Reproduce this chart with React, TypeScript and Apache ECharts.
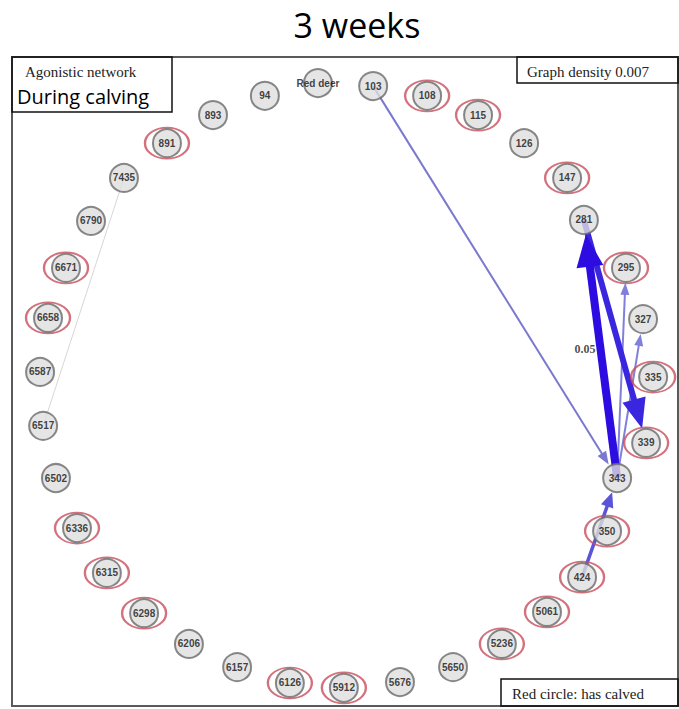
import React, { useEffect, useRef } from 'react';
import * as echarts from 'echarts';

// ---- data ----
const titleText = '3 weeks';
const networkName = 'Agonistic network';
const periodName = 'During calving';
const densityText = 'Graph density 0.007';
const legendText = 'Red circle: has calved';

const nodeNames = ['Red deer', '103', '108', '115', '126', '147', '281', '295', '327', '335', '339', '343', '350', '424', '5061', '5236', '5650', '5676', '5912', '6126', '6157', '6206', '6298', '6315', '6336', '6502', '6517', '6587', '6658', '6671', '6790', '7435', '891', '893', '94'];
// layout coordinates (circle layout, roughly -1..1)
const layoutX = [-0.092, 0.089, 0.266, 0.433, 0.584, 0.725, 0.780, 0.918, 0.974, 1.007, 0.984, 0.889, 0.856, 0.774, 0.659, 0.511, 0.351, 0.177, -0.007, -0.184, -0.357, -0.515, -0.662, -0.784, -0.882, -0.951, -0.993, -1.003, -0.977, -0.918, -0.836, -0.728, -0.587, -0.436, -0.266];
const layoutY = [0.990, 0.980, 0.948, 0.885, 0.793, 0.679, 0.541, 0.384, 0.216, 0.026, -0.190, -0.305, -0.479, -0.630, -0.744, -0.849, -0.925, -0.974, -0.993, -0.977, -0.925, -0.849, -0.748, -0.616, -0.469, -0.305, -0.134, 0.043, 0.220, 0.384, 0.538, 0.679, 0.793, 0.885, 0.948];
const calvedNodes = ['108', '115', '147', '295', '335', '339', '350', '424', '5061', '5236', '5912', '6126', '6298', '6315', '6336', '6658', '6671', '891'];

const edgeSource = ['7435', '103', '343', '343', '424', '281', '343'];
const edgeTarget = ['6517', '343', '295', '327', '343', '339', '281'];
const edgeLabel = ['', '', '', '', '', '', '0.05'];

// ---- styles ----
const edgeColors = ['#d9d5d7', '#7a78cf', '#8080dc', '#8080dc', '#5a55d8', '#3a26de', '#2c0ce0'];
const edgeWidths = [1, 2, 2, 2, 3.5, 6, 8];
const edgeArrows: (number[] | null)[] = [null, [10, 13], [9, 12], [9, 12], [13, 15], [24, 30], [27, 32]];

const W = 679;
const H = 709;
const CX = 346;
const CY = 385;
const R = 305;
const NODE_D = 28;

export default function App() {
  const ref = useRef<HTMLDivElement>(null);
  useEffect(() => {
    document.body.style.margin = '0';
    if (!ref.current) return;
    const chart = echarts.init(ref.current, null, { renderer: 'svg' });

    // effective node sizes for edge trimming (so arrow tips touch node border)
    const effSize = nodeNames.map((n) => {
      let extra = 0;
      edgeTarget.forEach((t, i) => {
        const a = edgeArrows[i];
        if (t === n && a) extra = Math.max(extra, a[1]);
      });
      return NODE_D + 2 + extra;
    });

    const graphNodes = nodeNames.map((n, i) => ({
      name: n,
      value: [layoutX[i], layoutY[i]],
      symbolSize: effSize[i],
    }));
    const links = edgeSource.map((s, i) => {
      const a = edgeArrows[i];
      return {
        source: s,
        target: edgeTarget[i],
        symbol: a ? ['none', 'triangle'] : ['none', 'none'],
        symbolSize: a ? [0, a] : [0, 0],
        lineStyle: { color: edgeColors[i], width: edgeWidths[i], opacity: 1, curveness: 0 },
      };
    });

    const idx = (n: string) => nodeNames.indexOf(n);
    const labelPoints = edgeLabel
      .map((l, i) => {
        if (!l) return null;
        const a = idx(edgeSource[i]);
        const b = idx(edgeTarget[i]);
        return [(layoutX[a] + layoutX[b]) / 2, (layoutY[a] + layoutY[b]) / 2, l];
      })
      .filter((d) => d);

    const option: any = {
      animation: false,
      backgroundColor: '#ffffff',
      grid: { left: 0, right: 0, top: 0, bottom: 0 },
      xAxis: { type: 'value', min: -CX / R, max: (W - CX) / R, show: false },
      yAxis: { type: 'value', min: -(H - CY) / R, max: CY / R, show: false },
      graphic: [
        { type: 'rect', z: 100, shape: { x: 12, y: 57, width: 666, height: 649 }, style: { fill: 'none', stroke: '#5a5a5a', lineWidth: 2 } },
        { type: 'rect', z: 100, shape: { x: 12, y: 57, width: 160, height: 55 }, style: { fill: 'none', stroke: '#111', lineWidth: 1.5 } },
        { type: 'rect', z: 100, shape: { x: 517, y: 57, width: 161, height: 26 }, style: { fill: 'none', stroke: '#111', lineWidth: 1.5 } },
        { type: 'rect', z: 100, shape: { x: 501, y: 679, width: 177, height: 27 }, style: { fill: 'none', stroke: '#111', lineWidth: 1.5 } },
        { type: 'text', z: 100, x: 357, y: 25, style: { text: titleText, fill: '#000', font: '34px "Open Sans", "Noto Sans", sans-serif', textAlign: 'center', textVerticalAlign: 'middle' } },
        { type: 'text', z: 100, x: 25, y: 72, style: { text: networkName, fill: '#222', font: '15px "Liberation Serif", serif', textAlign: 'left', textVerticalAlign: 'middle' } },
        { type: 'text', z: 100, x: 17, y: 96, style: { text: periodName, fill: '#000', font: '20px "Open Sans", "Noto Sans", sans-serif', textAlign: 'left', textVerticalAlign: 'middle' } },
        { type: 'text', z: 100, x: 527, y: 72, style: { text: densityText, fill: '#222', font: '15px "Liberation Serif", serif', textAlign: 'left', textVerticalAlign: 'middle' } },
        { type: 'text', z: 100, x: 512, y: 694, style: { text: legendText, fill: '#222', font: '15px "Liberation Serif", serif', textAlign: 'left', textVerticalAlign: 'middle' } },
      ],
      series: [
        {
          type: 'graph',
          coordinateSystem: 'cartesian2d',
          layout: 'none',
          z: 2,
          data: graphNodes,
          links,
          itemStyle: { opacity: 0 },
          label: { show: false },
          emphasis: { disabled: true },
          silent: true,
        },
        {
          type: 'scatter',
          z: 3,
          clip: false,
          silent: true,
          symbol: 'path://M0,50 A50,50 0 1,1 100,50 A50,50 0 1,1 0,50 Z',
          symbolSize: [44, 31],
          itemStyle: { color: 'rgba(0,0,0,0)', borderColor: '#c84d5d', borderWidth: 2 },
          data: calvedNodes.map((n) => [layoutX[idx(n)], layoutY[idx(n)]]),
        },
        {
          type: 'scatter',
          z: 4,
          clip: false,
          silent: true,
          symbol: 'circle',
          symbolSize: NODE_D,
          itemStyle: { color: '#dedede', borderColor: '#6a6a6a', borderWidth: 2 },
          label: {
            show: true,
            position: 'inside',
            formatter: (p: any) => p.data[2],
            color: '#111',
            fontSize: 10,
            fontWeight: 'bold',
            fontFamily: '"Liberation Sans", Arial, sans-serif',
          },
          data: nodeNames.map((n, i) => [layoutX[i], layoutY[i], n]),
        },
        {
          type: 'scatter',
          z: 5,
          clip: false,
          silent: true,
          symbolSize: 0,
          label: {
            show: true,
            position: 'left',
            distance: 5,
            formatter: (p: any) => p.data[2],
            color: '#222',
            fontSize: 12,
            fontWeight: 'bold',
            fontFamily: '"Liberation Serif", serif',
          },
          data: labelPoints,
        },
      ],
    };
    chart.setOption(option);
    return () => chart.dispose();
  }, []);
  return <div ref={ref} style={{ width: W, height: H }} />;
}
